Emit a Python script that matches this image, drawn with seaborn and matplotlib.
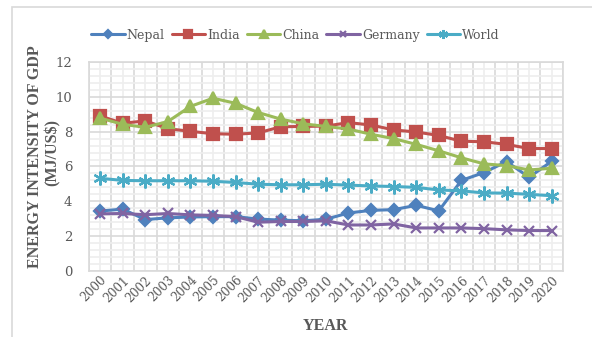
import matplotlib
matplotlib.use("Agg")
import matplotlib.pyplot as plt
from matplotlib.patches import Rectangle
from matplotlib.ticker import MultipleLocator, FixedLocator
import seaborn as sns
import pandas as pd

# Energy intensity of GDP (MJ per US$), 2000-2020
years = [str(y) for y in range(2000, 2021)]
nepal = [3.44, 3.55, 2.95, 3.05, 3.1, 3.12, 3.12, 2.98, 2.92, 2.88, 2.97,
         3.33, 3.48, 3.52, 3.77, 3.45, 5.2, 5.65, 6.28, 5.38, 6.3]
india = [8.9, 8.48, 8.62, 8.17, 8.02, 7.88, 7.85, 7.93, 8.28, 8.3, 8.32,
         8.52, 8.38, 8.1, 7.98, 7.78, 7.45, 7.42, 7.27, 7.03, 7.03]
china = [8.78, 8.42, 8.25, 8.58, 9.45, 9.92, 9.63, 9.1, 8.72, 8.45, 8.3,
         8.15, 7.85, 7.6, 7.27, 6.9, 6.5, 6.15, 6.05, 5.8, 5.9]
germany = [3.28, 3.3, 3.23, 3.3, 3.22, 3.19, 3.12, 2.8, 2.84, 2.84, 2.88,
           2.64, 2.64, 2.7, 2.47, 2.47, 2.47, 2.43, 2.36, 2.32, 2.32]
world = [5.32, 5.2, 5.18, 5.18, 5.18, 5.15, 5.08, 4.98, 4.95, 4.95, 4.98,
         4.93, 4.88, 4.85, 4.8, 4.65, 4.6, 4.48, 4.47, 4.4, 4.32]

series = {"Nepal": nepal, "India": india, "China": china,
          "Germany": germany, "World": world}
colors = {"Nepal": "#4F81BD", "India": "#C0504D", "China": "#9BBB59",
          "Germany": "#8064A2", "World": "#4BACC6"}
markers = {"Nepal": "D", "India": "s", "China": "^",
           "Germany": "x", "World": (6, 2, 0)}
msizes = {"Nepal": 6.5, "India": 8.5, "China": 9, "Germany": 7.5, "World": 10}

rows = []
for name, vals in series.items():
    for i, (yr, v) in enumerate(zip(years, vals)):
        rows.append({"idx": i, "year": yr, "value": v, "country": name})
df = pd.DataFrame(rows)

sns.set_style("white")
plt.rcParams["font.family"] = ["DejaVu Serif"]
text_gray = "#595959"

fig = plt.figure(figsize=(5.92, 3.37), dpi=100)
ax = fig.add_axes([0.150, 0.196, 0.801, 0.620])

for name in series:
    sub = df[df["country"] == name]
    sns.lineplot(data=sub, x="idx", y="value", ax=ax, color=colors[name],
                 marker=markers[name], markersize=msizes[name],
                 markeredgecolor=colors[name], markeredgewidth=1.6,
                 linewidth=2.2, label=name, legend=False, zorder=3)

ax.set_xlim(-0.5, len(years) - 0.5)
ax.set_ylim(0, 12)
ax.yaxis.set_major_locator(MultipleLocator(2))
ax.yaxis.set_minor_locator(MultipleLocator(0.4))
ax.xaxis.set_major_locator(FixedLocator(range(len(years))))
ax.set_xticklabels(years)
ax.xaxis.set_minor_locator(FixedLocator([i - 0.5 for i in range(len(years) + 1)]))

# Category boundaries are the heavier grid lines, centres the lighter ones
ax.grid(False)
ax.grid(which="minor", axis="x", color="#d9d9d9", linewidth=1.2, zorder=0)
ax.grid(which="major", axis="x", color="#eeeeee", linewidth=1.2, zorder=0)
ax.grid(which="major", axis="y", color="#d9d9d9", linewidth=1.2, zorder=0)
ax.grid(which="minor", axis="y", color="#eeeeee", linewidth=1.2, zorder=0)
ax.set_axisbelow(True)

for sp in ax.spines.values():
    sp.set_color("#d9d9d9")
    sp.set_linewidth(1.2)

ax.tick_params(which="both", length=0)
ax.tick_params(axis="y", labelsize=9.5, labelcolor=text_gray, pad=12)
ax.tick_params(axis="x", labelsize=8.7, labelcolor=text_gray, pad=2)
for lbl in ax.get_xticklabels():
    lbl.set_rotation(45)
    lbl.set_ha("right")
    lbl.set_rotation_mode("anchor")

title_font = dict(fontsize=11.5, fontweight="bold", color=text_gray,
                  family="Liberation Serif")
ax.set_xlabel("YEAR", **title_font)
ax.xaxis.set_label_coords(0.5, -0.225)

# Two-line y title: main line plus the unit line beside the tick labels
ax.set_ylabel("ENERGY INTENSITY OF GDP", **title_font)
ax.yaxis.set_label_coords(-0.096, 0.545)
fig.text(53 / 592, 1 - 153 / 337, "(MJ/US$)", rotation=90,
         ha="center", va="center", **title_font)

handles, labels = ax.get_legend_handles_labels()
fig.legend(handles, labels, loc="center", bbox_to_anchor=(0.499, 0.896),
           ncol=5, frameon=False, fontsize=9, handlelength=2.7,
           markerscale=0.65, handletextpad=0.15, columnspacing=0.55,
           labelcolor=text_gray)

# Light frame around the chart area
fig.patches.append(Rectangle((12 / 592, -0.2), 1.2, 1.2 - 7 / 337,
                             transform=fig.transFigure, fill=False,
                             edgecolor="#d9d9d9", linewidth=1.2))

fig.savefig("out.png", dpi=100)
